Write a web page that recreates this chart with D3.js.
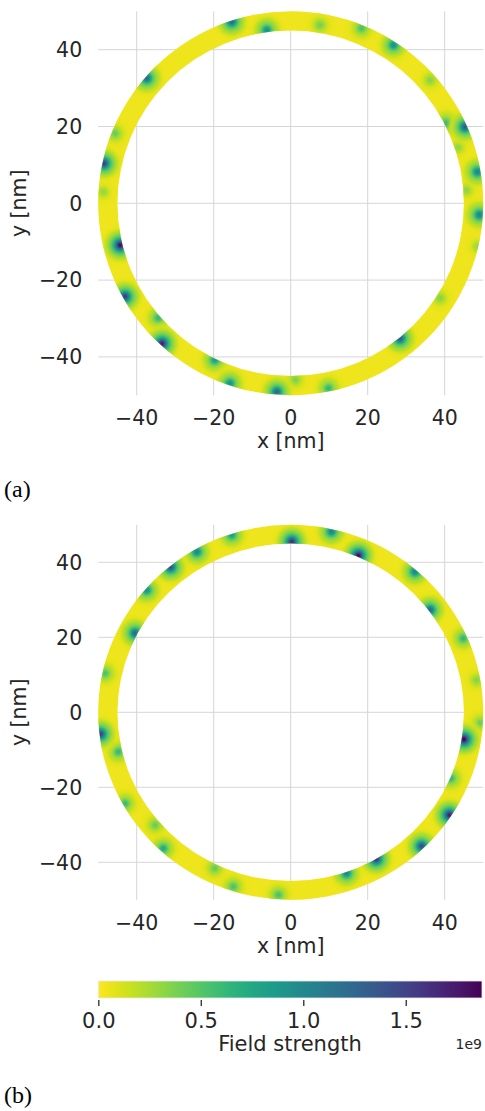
<!DOCTYPE html>
<html>
<head>
<meta charset="utf-8">
<script src="https://cdn.jsdelivr.net/npm/d3@7"></script>
<style>
  body { margin: 0; background: #fff; }
  svg { display: block; }
</style>
</head>
<body>
<div id="container"></div>
<script>
/* DATA */
const gridTicks = [-40, -20, 0, 20, 40]
const ringInner = 45, ringOuter = 50
const baseField = 0.05e9
const fieldMax = 1.872e9
const cbarTicks = [0, 0.5e9, 1.0e9, 1.5e9]
const panelLabels = ["(a)", "(b)"]

// hot spots on the ring: [x nm, y nm, peak field]
const spotsA = [
  [-15.3, 47.3, 1.2e9], [-37.4, 32.6, 1.2e9], [-45.6, 18.2, 0.4e9], [-48.5, 10.4, 1.5e9],
  [-48.7, 3.0, 0.25e9], [-44.3, -10.9, 1.8e9], [-6.2, 45.1, 0.9e9], [7.6, 46.4, 0.35e9],
  [18.4, 45.6, 0.5e9], [26.7, 41.2, 0.9e9], [36.2, 32.1, 0.3e9], [40.5, 20.8, 0.7e9],
  [45.3, 19.9, 1.3e9], [43.5, 14.7, 0.3e9], [48.5, 8.2, 1.0e9], [45.7, 3.5, 0.3e9],
  [49.0, -3.0, 1.0e9], [-43.0, -24.3, 1.5e9], [-34.4, -29.9, 0.6e9], [-33.4, -36.5, 1.7e9],
  [-19.7, -40.8, 0.8e9], [-15.8, -46.9, 0.9e9], [-3.6, -49.1, 1.2e9], [1.1, -46.0, 0.35e9],
  [9.8, -48.2, 0.6e9], [28.4, -35.2, 1.3e9], [38.8, -24.7, 0.3e9], [48.6, -11.3, 0.25e9]
]
const spotsB = [
  [-15.3, 47.3, 0.8e9], [-24.4, 42.8, 1.0e9], [-31.2, 38.7, 1.4e9], [-37.4, 32.6, 0.9e9],
  [-40.4, 21.1, 1.2e9], [-48.2, 10.4, 0.5e9], [-49.4, -5.8, 1.5e9], [-44.8, -10.5, 0.6e9],
  [-43.0, -24.3, 0.55e9], [-35.2, -30.1, 0.4e9], [-33.1, -36.3, 0.7e9], [-19.7, -41.6, 0.4e9],
  [-14.9, -46.5, 0.5e9], [-3.2, -48.7, 0.5e9], [14.5, -42.9, 1.0e9], [22.2, -39.1, 1.6e9],
  [34.0, -35.7, 1.4e9], [41.2, -27.4, 1.7e9], [41.6, -17.6, 0.6e9], [0.3, 45.5, 1.6e9],
  [10.6, 48.2, 1.0e9], [17.6, 41.8, 1.8e9], [32.3, 37.5, 1.0e9], [36.2, 27.3, 1.2e9],
  [44.8, 19.7, 0.6e9], [48.3, 8.6, 0.3e9], [49.2, -2.9, 0.4e9], [45.0, -7.2, 1.85e9]
]

/* LAYOUT */
const width = 485, height = 1111
const textColor = "#262626"
const font = "'DejaVu Sans', sans-serif"
const coreW = 1.1, tailW = 2.8 // nm, shape of a hot spot
const spotR = 8 // nm, extent drawn for each hot spot

const panels = [
  { spots: spotsA, xr: [98.2, 483.2], yr: [395.3, 11.3], label: panelLabels[0], labelY: 497 },
  { spots: spotsB, xr: [98.2, 483.2], yr: [899.8, 524.8], label: panelLabels[1], labelY: 1103 }
]

const color = d3.scaleSequential(t => d3.interpolateViridis(1 - t))
  .domain([0, fieldMax])
  .clamp(true)

const profile = (d, peak) =>
  peak * (0.55 * Math.exp(-Math.pow(d / coreW, 2)) + 0.45 * Math.exp(-Math.pow(d / tailW, 2)))

const svg = d3.select("#container")
  .append("svg")
  .attr("width", width)
  .attr("height", height)
  .style("font-family", font)

const defs = svg.append("defs")

panels.forEach((p, pi) => {
  const x = d3.scaleLinear().domain([-50, 50]).range(p.xr)
  const y = d3.scaleLinear().domain([-50, 50]).range(p.yr)
  const g = svg.append("g")

  // grid
  g.selectAll("line.vgrid")
    .data(gridTicks)
    .join("line")
    .attr("x1", d => x(d)).attr("x2", d => x(d))
    .attr("y1", y(50)).attr("y2", y(-50))
    .attr("stroke", "#d6d6d6").attr("stroke-width", 1)
  g.selectAll("line.hgrid")
    .data(gridTicks)
    .join("line")
    .attr("y1", d => y(d)).attr("y2", d => y(d))
    .attr("x1", x(-50)).attr("x2", x(50))
    .attr("stroke", "#d6d6d6").attr("stroke-width", 1)

  // ring shape
  const cx = x(0), cy = y(0)
  const ring = (r) => {
    const rx = x(r) - x(0), ry = y(0) - y(r)
    return `M${cx + rx},${cy}A${rx},${ry} 0 1 0 ${cx - rx},${cy}A${rx},${ry} 0 1 0 ${cx + rx},${cy}Z`
  }
  const ringPath = ring(ringOuter) + ring(ringInner)

  defs.append("clipPath").attr("id", "ring" + pi)
    .append("path").attr("d", ringPath).attr("clip-rule", "evenodd")

  g.append("path")
    .attr("d", ringPath)
    .attr("fill-rule", "evenodd")
    .attr("fill", color(baseField))

  const spotG = g.append("g").attr("clip-path", `url(#ring${pi})`)
  const sorted = p.spots.slice().sort((a, b) => a[2] - b[2])
  const stops = d3.range(0, 1.0001, 0.04)
  const pxPerNm = (x(1) - x(0) + y(0) - y(1)) / 2

  sorted.forEach((s, si) => {
    const id = `spot${pi}_${si}`
    const grad = defs.append("radialGradient")
      .attr("id", id)
      .attr("gradientUnits", "userSpaceOnUse")
      .attr("cx", x(s[0])).attr("cy", y(s[1]))
      .attr("r", spotR * pxPerNm)
    grad.selectAll("stop")
      .data(stops)
      .join("stop")
      .attr("offset", o => o)
      .attr("stop-color", o => color(baseField + profile(o * spotR, s[2])))
      .attr("stop-opacity", o => Math.min(1, profile(o * spotR, s[2]) / 0.12e9))
    spotG.append("circle")
      .attr("cx", x(s[0])).attr("cy", y(s[1]))
      .attr("r", spotR * pxPerNm)
      .attr("fill", `url(#${id})`)
  })

  // tick labels
  g.selectAll("text.xt")
    .data(gridTicks)
    .join("text")
    .attr("x", d => x(d)).attr("y", y(-50) + 30)
    .attr("text-anchor", "middle")
    .attr("font-size", 20.5).attr("fill", textColor)
    .text(d => d3.format("")(d).replace("-", "\u2212"))
  g.selectAll("text.yt")
    .data(gridTicks)
    .join("text")
    .attr("x", x(-50) - 16).attr("y", d => y(d))
    .attr("dy", "0.36em")
    .attr("text-anchor", "end")
    .attr("font-size", 20.5).attr("fill", textColor)
    .text(d => d3.format("")(d).replace("-", "\u2212"))

  g.append("text")
    .attr("x", x(0)).attr("y", y(-50) + 53)
    .attr("text-anchor", "middle")
    .attr("font-size", 20.5).attr("fill", textColor)
    .text("x [nm]")
  g.append("text")
    .attr("transform", `translate(26,${y(0)}) rotate(-90)`)
    .attr("text-anchor", "middle")
    .attr("font-size", 20.5).attr("fill", textColor)
    .text("y [nm]")

  svg.append("text")
    .attr("x", 4).attr("y", p.labelY)
    .attr("font-family", "'Liberation Serif', 'DejaVu Serif', serif")
    .attr("font-size", 24).attr("fill", "#000")
    .text(p.label)
})

/* COLORBAR */
const cb = d3.scaleLinear().domain([0, fieldMax]).range([98.3, 482])
const cbGrad = defs.append("linearGradient").attr("id", "cbar")
cbGrad.selectAll("stop")
  .data(d3.range(0, 1.0001, 0.02))
  .join("stop")
  .attr("offset", t => t)
  .attr("stop-color", t => color(t * fieldMax))

const cbG = svg.append("g")
cbG.append("rect")
  .attr("x", cb(0)).attr("y", 981)
  .attr("width", cb(fieldMax) - cb(0)).attr("height", 17)
  .attr("fill", "url(#cbar)")
  .attr("stroke", "#e8e8e8").attr("stroke-width", 0.8)

const cbAxis = d3.axisBottom(cb)
  .tickValues(cbarTicks)
  .tickSize(6)
  .tickPadding(7)
  .tickFormat(d => (d / 1e9).toFixed(1))
cbG.append("g")
  .attr("transform", "translate(0,1000)")
  .call(cbAxis)
  .call(a => a.select(".domain").remove())
  .call(a => a.selectAll("line").attr("stroke", "#3a3a3a").attr("stroke-width", 1.4))
  .call(a => a.selectAll("text")
    .attr("font-size", 21).attr("font-family", font).attr("fill", textColor))

cbG.append("text")
  .attr("x", 290).attr("y", 1051)
  .attr("text-anchor", "middle")
  .attr("font-size", 21).attr("fill", textColor)
  .text("Field strength")
cbG.append("text")
  .attr("x", 482).attr("y", 1049)
  .attr("text-anchor", "end")
  .attr("font-size", 14).attr("fill", textColor)
  .text("1e9")
</script>
</body>
</html>
